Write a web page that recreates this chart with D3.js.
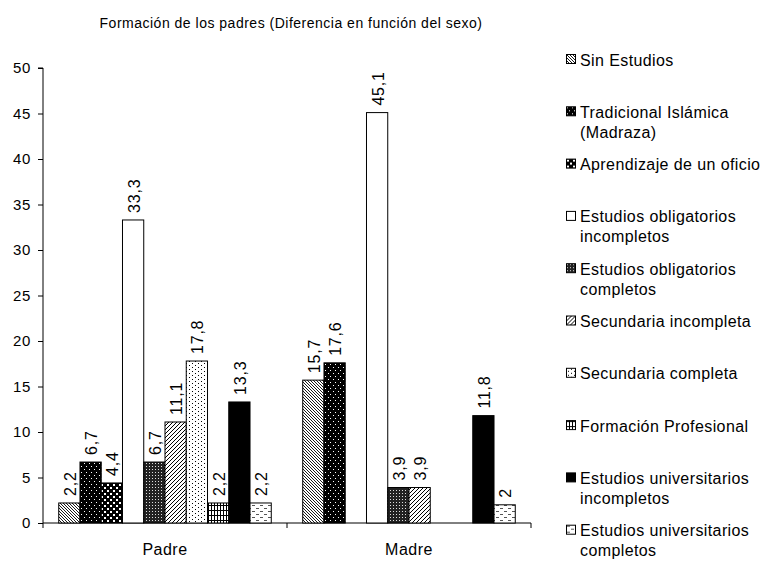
<!DOCTYPE html>
<html>
<head>
  <meta charset="UTF-8">
  <style>
    body {
      margin: 0;
      padding: 0;
      background-color: #fff;
    }
    svg {
      display: block;
      font-family: "Liberation Sans", Arial, sans-serif;
    }
    text {
      fill: #000;
    }
  </style>
</head>
<body>
<svg></svg>
<script src="https://d3js.org/d3.v7.min.js"></script>

<script>
  // data
  const categories = ["Padre", "Madre"];
  const seriesNames = [
    "Sin Estudios",
    "Tradicional Islámica (Madraza)",
    "Aprendizaje de un oficio",
    "Estudios obligatorios incompletos",
    "Estudios obligatorios completos",
    "Secundaria incompleta",
    "Secundaria completa",
    "Formación Profesional",
    "Estudios universitarios incompletos",
    "Estudios universitarios completos"
  ];
  // legend lines (wrapped the way the original does it)
  const legendLines = [
    ["Sin Estudios"],
    ["Tradicional Islámica", "(Madraza)"],
    ["Aprendizaje de un oficio"],
    ["Estudios obligatorios", "incompletos"],
    ["Estudios obligatorios", "completos"],
    ["Secundaria incompleta"],
    ["Secundaria completa"],
    ["Formación Profesional"],
    ["Estudios universitarios", "incompletos"],
    ["Estudios universitarios", "completos"]
  ];
  const padreValues = [2.2, 6.7, 4.4, 33.3, 6.7, 11.1, 17.8, 2.2, 13.3, 2.2];
  const madreValues = [15.7, 17.6, 0, 45.1, 3.9, 3.9, 0, 0, 11.8, 2];
  const yTicks = [0, 5, 10, 15, 20, 25, 30, 35, 40, 45, 50];

  let width = 779, height = 562;
  let svg = d3.select("svg").attr("width", width).attr("height", height);

  let margin = {left: 43, right: 248, top: 68, bottom: 39};
  let plotRight = width - margin.right;   // 531
  let plotBottom = height - margin.bottom; // 523

  // patterns, one per series
  let defs = svg.append("defs");
  function pat(id, w, h, bg) {
    let p = defs.append("pattern").attr("id", id)
        .attr("patternUnits", "userSpaceOnUse")
        .attr("width", w).attr("height", h);
    p.append("rect").attr("width", w).attr("height", h).attr("fill", bg);
    return p;
  }
  // 0 sin estudios: fine "\" hatch
  pat("p0", 3, 3, "#fff").append("path")
      .attr("d", "M-1,-1L4,4M2,-1L4,1M-1,2L1,4")
      .attr("stroke", "#000").attr("stroke-width", 0.9);
  // 1 tradicional: black with white dots
  let p1 = pat("p1", 5, 6, "#000");
  p1.append("rect").attr("x", 1).attr("y", 1).attr("width", 1).attr("height", 1).attr("fill", "#fff");
  p1.append("rect").attr("x", 3).attr("y", 4).attr("width", 1).attr("height", 1).attr("fill", "#fff");
  // 2 aprendizaje: black with white blobs
  let p2 = pat("p2", 6, 6, "#000");
  p2.append("rect").attr("x", 1).attr("y", 1).attr("width", 2).attr("height", 2).attr("fill", "#fff");
  p2.append("rect").attr("x", 4).attr("y", 4).attr("width", 2).attr("height", 2).attr("fill", "#fff");
  // 3 obligatorios incompletos: white
  pat("p3", 4, 4, "#fff");
  // 4 obligatorios completos: dark fine dots
  let p4 = pat("p4", 3, 3, "#222");
  p4.append("rect").attr("x", 1).attr("y", 1).attr("width", 1).attr("height", 1).attr("fill", "#ddd");
  // 5 secundaria incompleta: "/" hatch
  pat("p5", 4, 4, "#fff").append("path")
      .attr("d", "M-1,5L5,-1M-1,1L1,-1M3,5L5,3")
      .attr("stroke", "#000").attr("stroke-width", 1);
  // 6 secundaria completa: sparse dots
  let p6 = pat("p6", 6, 4, "#fff");
  p6.append("rect").attr("x", 2).attr("y", 1).attr("width", 1).attr("height", 1).attr("fill", "#000");
  p6.append("rect").attr("x", 5).attr("y", 3).attr("width", 1).attr("height", 1).attr("fill", "#000");
  // 7 formacion profesional: small grid
  let p7 = pat("p7", 3, 5, "#fff");
  p7.append("rect").attr("x", 0).attr("y", 0).attr("width", 1).attr("height", 5).attr("fill", "#000");
  p7.append("rect").attr("x", 0).attr("y", 0).attr("width", 3).attr("height", 1).attr("fill", "#000");
  // 8 universitarios incompletos: solid black
  pat("p8", 4, 4, "#000");
  // 9 universitarios completos: short dashes
  let p9 = pat("p9", 8, 6, "#fff");
  p9.append("rect").attr("x", 1).attr("y", 1).attr("width", 3).attr("height", 1).attr("fill", "#555");
  p9.append("rect").attr("x", 5).attr("y", 4).attr("width", 3).attr("height", 1).attr("fill", "#555");

  let fills = seriesNames.map((d, i) => "url(#p" + i + ")");

  // scales
  let x0 = d3.scaleBand()
      .domain(categories)
      .range([margin.left, plotRight]);

  let x1 = d3.scaleBand()
      .domain(d3.range(seriesNames.length))
      .range([0, x0.bandwidth()])
      .paddingInner(0)
      .paddingOuter(0.74);

  let y = d3.scaleLinear()
      .domain([0, 50])
      .range([plotBottom, margin.top]);

  let fmt = v => String(v).replace(".", ",");

  // axes
  let yAxis = svg.append("g")
      .attr("transform", `translate(${margin.left},0)`)
      .call(d3.axisLeft(y).tickValues(yTicks).tickSize(5).tickPadding(7).tickFormat(d3.format("d")));
  yAxis.select(".domain").attr("d", `M-5,${margin.top}H0V${plotBottom}`);
  yAxis.selectAll("text")
      .attr("font-size", "15px")
      .attr("font-family", "'Liberation Sans', Arial, sans-serif")
      .attr("letter-spacing", "0.6px");

  let xAxis = svg.append("g")
      .attr("transform", `translate(0,${plotBottom})`);
  xAxis.append("path")
      .attr("d", `M${margin.left},0H${plotRight}`)
      .attr("stroke", "#000").attr("fill", "none");
  // tick marks at the category boundaries
  let bounds = categories.map(c => x0(c)).concat([plotRight]);
  xAxis.selectAll(".bt").data(bounds).enter().append("line")
      .attr("x1", d => d).attr("x2", d => d)
      .attr("y1", 0).attr("y2", 5)
      .attr("stroke", "#000");
  xAxis.selectAll(".cat").data(categories).enter().append("text")
      .attr("x", d => x0(d) + x0.bandwidth() / 2)
      .attr("y", 32)
      .attr("text-anchor", "middle")
      .attr("font-size", "16px")
      .attr("letter-spacing", "0.5px")
      .text(d => d);

  // bars
  let rows = categories.map((c, ci) => ({
    cat: c,
    values: ci === 0 ? padreValues : madreValues
  }));

  let groups = svg.append("g").selectAll("g")
      .data(rows)
      .enter().append("g")
      .attr("transform", d => `translate(${x0(d.cat)},0)`);

  groups.selectAll("rect")
      .data(d => d.values.map((v, i) => ({i, v})).filter(e => e.v > 0))
      .enter().append("rect")
      .attr("x", d => x1(d.i))
      .attr("y", d => y(d.v))
      .attr("width", x1.bandwidth())
      .attr("height", d => plotBottom - y(d.v))
      .attr("fill", d => fills[d.i])
      .attr("stroke", "#000")
      .attr("stroke-width", 1);

  // value labels, rotated
  groups.selectAll("text.val")
      .data(d => d.values.map((v, i) => ({i, v})).filter(e => e.v > 0))
      .enter().append("text")
      .attr("class", "val")
      .attr("transform", d => `translate(${x1(d.i) + x1.bandwidth() / 2 + 1},${y(d.v) - 7}) rotate(-90)`)
      .attr("dy", "0.35em")
      .attr("font-size", "16px")
      .attr("letter-spacing", "0.8px")
      .text(d => fmt(d.v));

  // title
  svg.append("text")
      .attr("x", 291)
      .attr("y", 28)
      .attr("text-anchor", "middle")
      .attr("font-size", "14px")
      .attr("letter-spacing", "0.5px")
      .text("Formación de los padres (Diferencia en función del sexo)");

  // legend
  let legend = svg.append("g").attr("transform", "translate(566,0)");
  let item = legend.selectAll("g")
      .data(legendLines)
      .enter().append("g")
      .attr("transform", (d, i) => `translate(0,${60 + i * 52.3})`);

  item.append("rect")
      .attr("x", 0.5).attr("y", -5.5)
      .attr("width", 9).attr("height", 9)
      .attr("fill", (d, i) => fills[i])
      .attr("stroke", "#000");

  item.each(function (lines) {
    let t = d3.select(this).append("text")
        .attr("x", 14)
        .attr("font-size", "16px")
        .attr("letter-spacing", "0.4px");
    lines.forEach((l, k) => {
      t.append("tspan").attr("x", 14).attr("y", 5.5 + k * 20).text(l);
    });
  });
</script>
</body>
</html>
